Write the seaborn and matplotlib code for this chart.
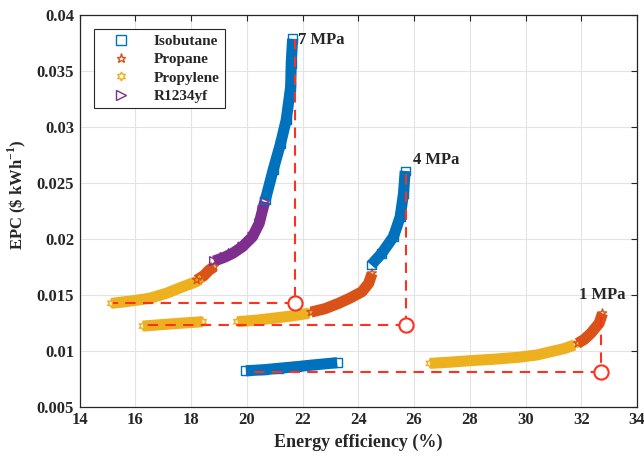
import matplotlib
matplotlib.use("Agg")
import matplotlib.pyplot as plt
import seaborn as sns
import numpy as np
from matplotlib.lines import Line2D

# ---------------- data ----------------
# 7 MPa
propylene7_x = [15.14, 15.91, 16.51, 17.10, 17.70, 18.18, 18.30]
propylene7_y = [0.01423, 0.01446, 0.01468, 0.01512, 0.01571, 0.01616, 0.01635]
propane7_x = [18.20, 18.45, 18.65, 18.83]
propane7_y = [0.01631, 0.01670, 0.01721, 0.01750]
r1234yf7_x = [18.82, 19.20, 19.49, 19.84, 20.20, 20.44, 20.56, 20.64]
r1234yf7_y = [0.01800, 0.01835, 0.01870, 0.01929, 0.02018, 0.02137, 0.02256, 0.02330]
isobutane7_x = [20.66, 20.94, 21.21, 21.41, 21.57, 21.59, 21.64]
isobutane7_y = [0.02346, 0.02613, 0.02852, 0.03060, 0.03357, 0.03566, 0.03785]

# 4 MPa
propylene4a_x = [16.27, 16.90, 17.60, 18.41]
propylene4a_y = [0.01220, 0.01232, 0.01245, 0.01259]
propylene4b_x = [19.66, 20.30, 20.91, 21.60, 22.22]
propylene4b_y = [0.01259, 0.01272, 0.01289, 0.01310, 0.01334]
propane4_x = [22.30, 22.80, 23.29, 23.70, 24.13, 24.37, 24.49]
propane4_y = [0.01345, 0.01375, 0.01423, 0.01470, 0.01527, 0.01602, 0.01691]
isobutane4_x = [24.46, 24.84, 25.26, 25.50, 25.62, 25.68]
isobutane4_y = [0.01765, 0.01870, 0.02018, 0.02196, 0.02405, 0.02605]

# 1 MPa
isobutane1_x = [19.96, 20.60, 21.15, 21.80, 22.34, 23.24]
isobutane1_y = [0.00821, 0.00830, 0.00843, 0.00858, 0.00872, 0.00893]
propylene1_x = [26.57, 27.30, 27.94, 28.80, 29.73, 30.40, 30.90, 31.40, 31.75]
propylene1_y = [0.00887, 0.00898, 0.00910, 0.00923, 0.00941, 0.00962, 0.00991, 0.01020, 0.01051]
propane1_x = [31.87, 32.10, 32.34, 32.64, 32.76]
propane1_y = [0.01066, 0.01100, 0.01155, 0.01245, 0.01334]

# optimum guide lines
pressure_labels = ["7 MPa", "4 MPa", "1 MPa"]
opt_x = [21.73, 25.72, 32.72]
opt_y = [0.01423, 0.01228, 0.00810]
top_y = [0.03785, 0.02580, 0.01300]
left_x = [15.20, 16.33, 20.20]
label_x = [21.84, 25.95, 32.76]
label_y = [0.03775, 0.02700, 0.01500]

xticks = [14, 16, 18, 20, 22, 24, 26, 28, 30, 32, 34]
yticks = [0.005, 0.01, 0.015, 0.02, 0.025, 0.03, 0.035, 0.04]
ytick_labels = ["0.005", "0.01", "0.015", "0.02", "0.025", "0.03", "0.035", "0.04"]

fluids = ["Isobutane", "Propane", "Propylene", "R1234yf"]
colors = {"Isobutane": "#0072BD", "Propane": "#D95319",
          "Propylene": "#EDB120", "R1234yf": "#7E2F8E"}
markers = {"Isobutane": "s", "Propane": "*", "Propylene": (6, 1, 0), "R1234yf": ">"}
RED = "#FF3020"

# ---------------- style ----------------
sns.set_theme(style="whitegrid")
plt.rcParams['font.family'] = ['Liberation Serif', 'DejaVu Serif']
plt.rcParams['font.weight'] = 'bold'
plt.rcParams['mathtext.fontset'] = 'custom'
plt.rcParams['mathtext.rm'] = 'Liberation Serif:bold'
plt.rcParams['mathtext.bf'] = 'Liberation Serif:bold'

fig = plt.figure(figsize=(6.44, 4.59), dpi=100)
ax = fig.add_axes([0.1238, 0.1139, 0.8654, 0.8541])
ax.set_facecolor("white")

segments = [
    ("Propylene", propylene7_x, propylene7_y),
    ("Propane", propane7_x, propane7_y),
    ("R1234yf", r1234yf7_x, r1234yf7_y),
    ("Isobutane", isobutane7_x, isobutane7_y),
    ("Propylene", propylene4a_x, propylene4a_y),
    ("Propylene", propylene4b_x, propylene4b_y),
    ("Propane", propane4_x, propane4_y),
    ("Isobutane", isobutane4_x, isobutane4_y),
    ("Isobutane", isobutane1_x, isobutane1_y),
    ("Propylene", propylene1_x, propylene1_y),
    ("Propane", propane1_x, propane1_y),
]

for fluid, xs, ys in segments:
    c = colors[fluid]
    sns.lineplot(x=xs, y=ys, sort=False, estimator=None, ax=ax, color=c,
                 linewidth=8, solid_capstyle="butt", legend=False, zorder=3)
    sns.scatterplot(x=xs, y=ys, ax=ax, marker=markers[fluid], s=40,
                    facecolors="none", edgecolor=c, linewidth=1.0,
                    legend=False, zorder=4)

# dashed guide lines and optimum circles
for i in range(len(opt_x)):
    sns.lineplot(x=[opt_x[i], opt_x[i]], y=[top_y[i], opt_y[i]], ax=ax,
                 sort=False, estimator=None, color=RED, linewidth=1.5,
                 legend=False, zorder=5).lines[-1].set_dashes([5, 3.5])
    sns.lineplot(x=[opt_x[i], left_x[i]], y=[opt_y[i], opt_y[i]], ax=ax,
                 sort=False, estimator=None, color=RED, linewidth=1.5,
                 legend=False, zorder=5).lines[-1].set_dashes([5, 3.5])
    ax.text(label_x[i], label_y[i], pressure_labels[i], fontsize=12,
            fontweight="bold", ha="left" if i < 2 else "center", va="center", zorder=6)
sns.scatterplot(x=opt_x, y=opt_y, ax=ax, marker="o", s=105, facecolor="white",
                edgecolor=RED, linewidth=1.5, legend=False, zorder=6)

# axes
ax.set_xlim(14, 34)
ax.set_ylim(0.005, 0.04)
ax.set_xticks(xticks)
ax.set_xticklabels([str(t) for t in xticks])
ax.set_yticks(yticks)
ax.set_yticklabels(ytick_labels)
ax.tick_params(axis="both", which="major", labelsize=12, direction="in",
               length=4, width=0.8, color="#262626", top=True, right=True,
               pad=4)
for lab in ax.get_xticklabels() + ax.get_yticklabels():
    lab.set_fontweight("bold")
ax.grid(True, color="#E3E3E3", linewidth=0.8)
for sp in ax.spines.values():
    sp.set_color("#262626")
    sp.set_linewidth(0.9)
ax.set_xlabel("Energy efficiency (%)", fontsize=13, fontweight="bold", labelpad=4)
ax.set_ylabel(r"EPC (\$ kWh$^{\mathbf{-1}}$)", fontsize=12, fontweight="bold")
ax.yaxis.set_label_coords(-0.092, 0.54)

handles = [Line2D([0], [0], linestyle="none", marker=markers[f], markersize=6.5,
                  markerfacecolor="none", markeredgecolor=colors[f],
                  markeredgewidth=1.0) for f in fluids]
leg = ax.legend(handles, fluids, loc="upper left", bbox_to_anchor=(0.0257, 0.9635),
                borderaxespad=0, frameon=True, fancybox=False, framealpha=1,
                edgecolor="#262626", labelspacing=0.3,
                handlelength=2.85, handletextpad=0.7, borderpad=0.35,
                prop={"weight": "bold", "size": 11})
leg.get_frame().set_linewidth(0.8)
leg.set_zorder(10)

fig.savefig("out.png", dpi=100)
